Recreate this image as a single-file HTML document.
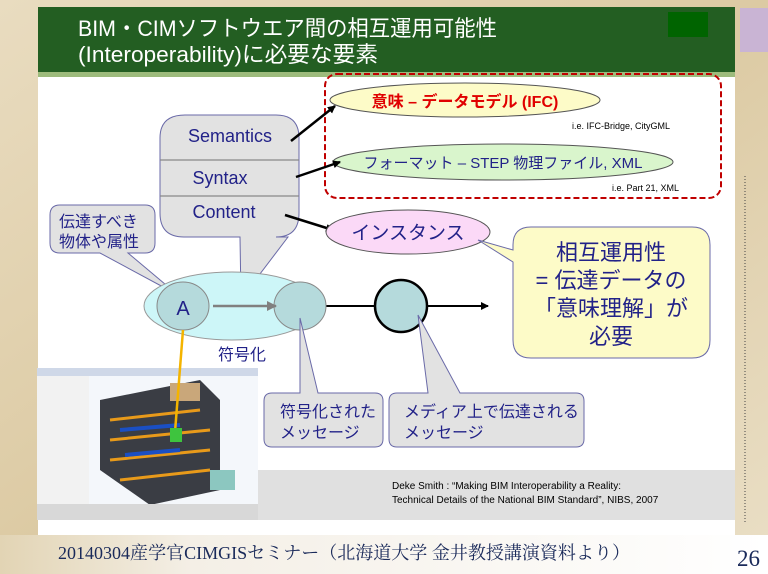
<!DOCTYPE html>
<html><head><meta charset="utf-8"><style>
html,body{margin:0;padding:0;width:768px;height:574px;overflow:hidden;background:#fff}
svg text{font-family:"Liberation Sans","Noto Sans CJK JP",sans-serif}
</style></head><body>
<svg width="768" height="574" viewBox="0 0 768 574" xmlns="http://www.w3.org/2000/svg">
<defs>
<linearGradient id="parch" x1="0" y1="0" x2="1" y2="1">
<stop offset="0" stop-color="#e9dcc0"/><stop offset="0.5" stop-color="#dccaa3"/><stop offset="1" stop-color="#eadfc6"/></linearGradient>
<linearGradient id="foot" x1="0" y1="0" x2="1" y2="0">
<stop offset="0" stop-color="#e2d4b4"/><stop offset="0.25" stop-color="#f4efe6"/><stop offset="1" stop-color="#ffffff"/></linearGradient>
<marker id="ah" markerWidth="8" markerHeight="8" refX="7" refY="4" orient="auto" markerUnits="userSpaceOnUse"><path d="M0,0 L8,4 L0,8 z" fill="#000"/></marker>
<marker id="ahg" markerWidth="10" markerHeight="10" refX="9" refY="5" orient="auto" markerUnits="userSpaceOnUse"><path d="M0,0 L10,5 L0,10 z" fill="#808080"/></marker>
</defs>
<rect width="768" height="574" fill="url(#parch)"/>
<rect x="38" y="73" width="697" height="462" fill="#fff"/>
<rect x="0" y="535" width="768" height="39" fill="url(#foot)"/>
<rect x="38" y="7" width="697" height="67" fill="#235e22"/>
<rect x="38" y="72" width="697" height="5" fill="#9dbb7c"/>
<rect x="668" y="12" width="40" height="25" fill="#006400"/>
<rect x="740" y="8" width="28" height="44" fill="#c9b4d4"/>
<text x="78" y="36" font-size="22" fill="#fff" textLength="419" lengthAdjust="spacingAndGlyphs">BIM・CIMソフトウエア間の相互運用可能性</text>
<text x="78" y="62" font-size="22" fill="#fff" textLength="300" lengthAdjust="spacingAndGlyphs">(Interoperability)に必要な要素</text>

<rect x="325" y="74" width="396" height="124" rx="12" fill="none" stroke="#c00000" stroke-width="2" stroke-dasharray="6,3"/>
<ellipse cx="465" cy="100" rx="135" ry="17" fill="#fdfbc8" stroke="#555" stroke-width="1"/>
<text x="465" y="107" font-size="16" font-weight="bold" fill="#e00000" text-anchor="middle">意味 – データモデル (IFC)</text>
<text x="572" y="129" font-size="9" fill="#000">i.e.  IFC-Bridge, CityGML</text>
<ellipse cx="503" cy="162" rx="170" ry="18" fill="#d9f5cc" stroke="#555" stroke-width="1"/>
<text x="503" y="168" font-size="15" fill="#222288" text-anchor="middle">フォーマット – STEP 物理ファイル, XML</text>
<text x="612" y="191" font-size="9" fill="#000">i.e.  Part 21,  XML</text>

<path d="M185,115 H276 Q299,115 299,138 V213 Q299,237 276,237 H288 L241,299 L240,237 H184 Q160,237 160,213 V138 Q160,115 185,115 Z" fill="#e2e2e2" stroke="#6a6aa8" stroke-width="1"/>
<line x1="160" y1="160" x2="299" y2="160" stroke="#888" stroke-width="1.2"/>
<line x1="160" y1="196" x2="299" y2="196" stroke="#888" stroke-width="1.2"/>
<text x="230" y="142" font-size="18" fill="#222288" text-anchor="middle">Semantics</text>
<text x="220" y="184" font-size="18" fill="#222288" text-anchor="middle">Syntax</text>
<text x="224" y="218" font-size="18" fill="#222288" text-anchor="middle">Content</text>
<line x1="291" y1="141" x2="335" y2="106" stroke="#000" stroke-width="2.5" marker-end="url(#ah)"/>
<line x1="296" y1="177" x2="340" y2="162" stroke="#000" stroke-width="2.5" marker-end="url(#ah)"/>
<line x1="285" y1="215" x2="333" y2="230" stroke="#000" stroke-width="2.5" marker-end="url(#ah)"/>

<ellipse cx="408" cy="232" rx="82" ry="22" fill="#fbd9f7" stroke="#555" stroke-width="1"/>
<text x="408" y="239" font-size="19" fill="#222288" text-anchor="middle">インスタンス</text>

<path d="M531,227 H692 Q710,227 710,245 V340 Q710,358 692,358 H531 Q513,358 513,340 V262 L478,240 L513,250 V245 Q513,227 531,227 Z" fill="#fdfbc8" stroke="#6a6aa8" stroke-width="1"/>
<g font-size="22" fill="#222288" text-anchor="middle">
<text x="611" y="260">相互運用性</text>
<text x="611" y="288">=  伝達データの</text>
<text x="611" y="316">「意味理解」が</text>
<text x="611" y="344">必要</text></g>

<path d="M60,205 H145 Q155,205 155,215 V243 Q155,253 145,253 H128 L178,295 L100,253 H60 Q50,253 50,243 V215 Q50,205 60,205 Z" fill="#e2e2e2" stroke="#6a6aa8" stroke-width="1"/>
<text x="59" y="227" font-size="16" fill="#222288">伝達すべき</text>
<text x="59" y="247" font-size="16" fill="#222288">物体や属性</text>

<ellipse cx="232" cy="306" rx="88" ry="34" fill="#cdf6f8" stroke="#999" stroke-width="1"/>
<line x1="320" y1="306" x2="488" y2="306" stroke="#000" stroke-width="2" marker-end="url(#ah)"/>
<ellipse cx="183" cy="306" rx="26" ry="24" fill="#b5dadc" stroke="#888" stroke-width="1"/>
<ellipse cx="300" cy="306" rx="26" ry="24" fill="#b5dadc" stroke="#888" stroke-width="1"/>
<circle cx="401" cy="306" r="26" fill="#b5dadc" stroke="#000" stroke-width="2.5"/>
<line x1="213" y1="306" x2="276" y2="306" stroke="#808080" stroke-width="2.5" marker-end="url(#ahg)"/>
<text x="183" y="315" font-size="20" fill="#222288" text-anchor="middle">A</text>
<text x="242" y="360" font-size="16" fill="#222288" text-anchor="middle">符号化</text>

<rect x="37" y="470" width="698" height="50" fill="#e0e0e0"/>
<rect x="37" y="368" width="221" height="152" fill="#e4e4e4"/>
<rect x="37" y="368" width="221" height="8" fill="#cfd8e8"/>
<rect x="37" y="376" width="52" height="128" fill="#f2f2f2"/>
<rect x="89" y="376" width="169" height="128" fill="#f4f7fb"/>
<path d="M100,400 L200,380 L220,400 L220,490 L150,505 L100,470 Z" fill="#3a3d44"/>
<rect x="170" y="383" width="30" height="18" fill="#c9a77a"/>
<path d="M110,420 L200,410 M110,440 L210,430 M110,460 L210,450 M120,480 L210,470" stroke="#e89a1a" stroke-width="3"/>
<path d="M120,430 L180,425 M125,455 L180,450" stroke="#1a4fc4" stroke-width="4"/>
<rect x="210" y="470" width="25" height="20" fill="#8cc7c0"/>
<rect x="37" y="504" width="221" height="16" fill="#d8d8d8"/>
<line x1="183" y1="330" x2="175" y2="432" stroke="#f4b400" stroke-width="2.5"/>
<rect x="170" y="428" width="12" height="14" fill="#3ec43e"/>

<path d="M272,393 H300 L300,318 L318,393 H375 Q383,393 383,401 V439 Q383,447 375,447 H272 Q264,447 264,439 V401 Q264,393 272,393 Z" fill="#e2e2e2" stroke="#6a6aa8" stroke-width="1"/>
<text x="280" y="417" font-size="16" fill="#222288">符号化された</text>
<text x="280" y="438" font-size="16" fill="#222288">メッセージ</text>
<path d="M397,393 H428 L418,315 L460,393 H576 Q584,393 584,401 V439 Q584,447 576,447 H397 Q389,447 389,439 V401 Q389,393 397,393 Z" fill="#e2e2e2" stroke="#6a6aa8" stroke-width="1"/>
<text x="404" y="417" font-size="16" fill="#222288">メディア上で伝達される</text>
<text x="404" y="438" font-size="16" fill="#222288">メッセージ</text>

<text x="392" y="489" font-size="10" fill="#000">Deke Smith : “Making BIM Interoperability a Reality:</text>
<text x="392" y="503" font-size="10" fill="#000">Technical Details of the National BIM Standard”, NIBS, 2007</text>
<line x1="745" y1="176" x2="745" y2="522" stroke="#444" stroke-width="1" stroke-dasharray="1,2"/>

<text x="58" y="559" font-size="18" fill="#1a2a5a" textLength="572" lengthAdjust="spacingAndGlyphs" style="font-family:'Liberation Serif','Noto Serif CJK SC',serif">20140304産学官CIMGISセミナー（北海道大学  金井教授講演資料より）</text>
<text x="737" y="566" font-size="23" fill="#1a2a5a" style="font-family:'Liberation Serif',serif">26</text>
</svg>
</body></html>
